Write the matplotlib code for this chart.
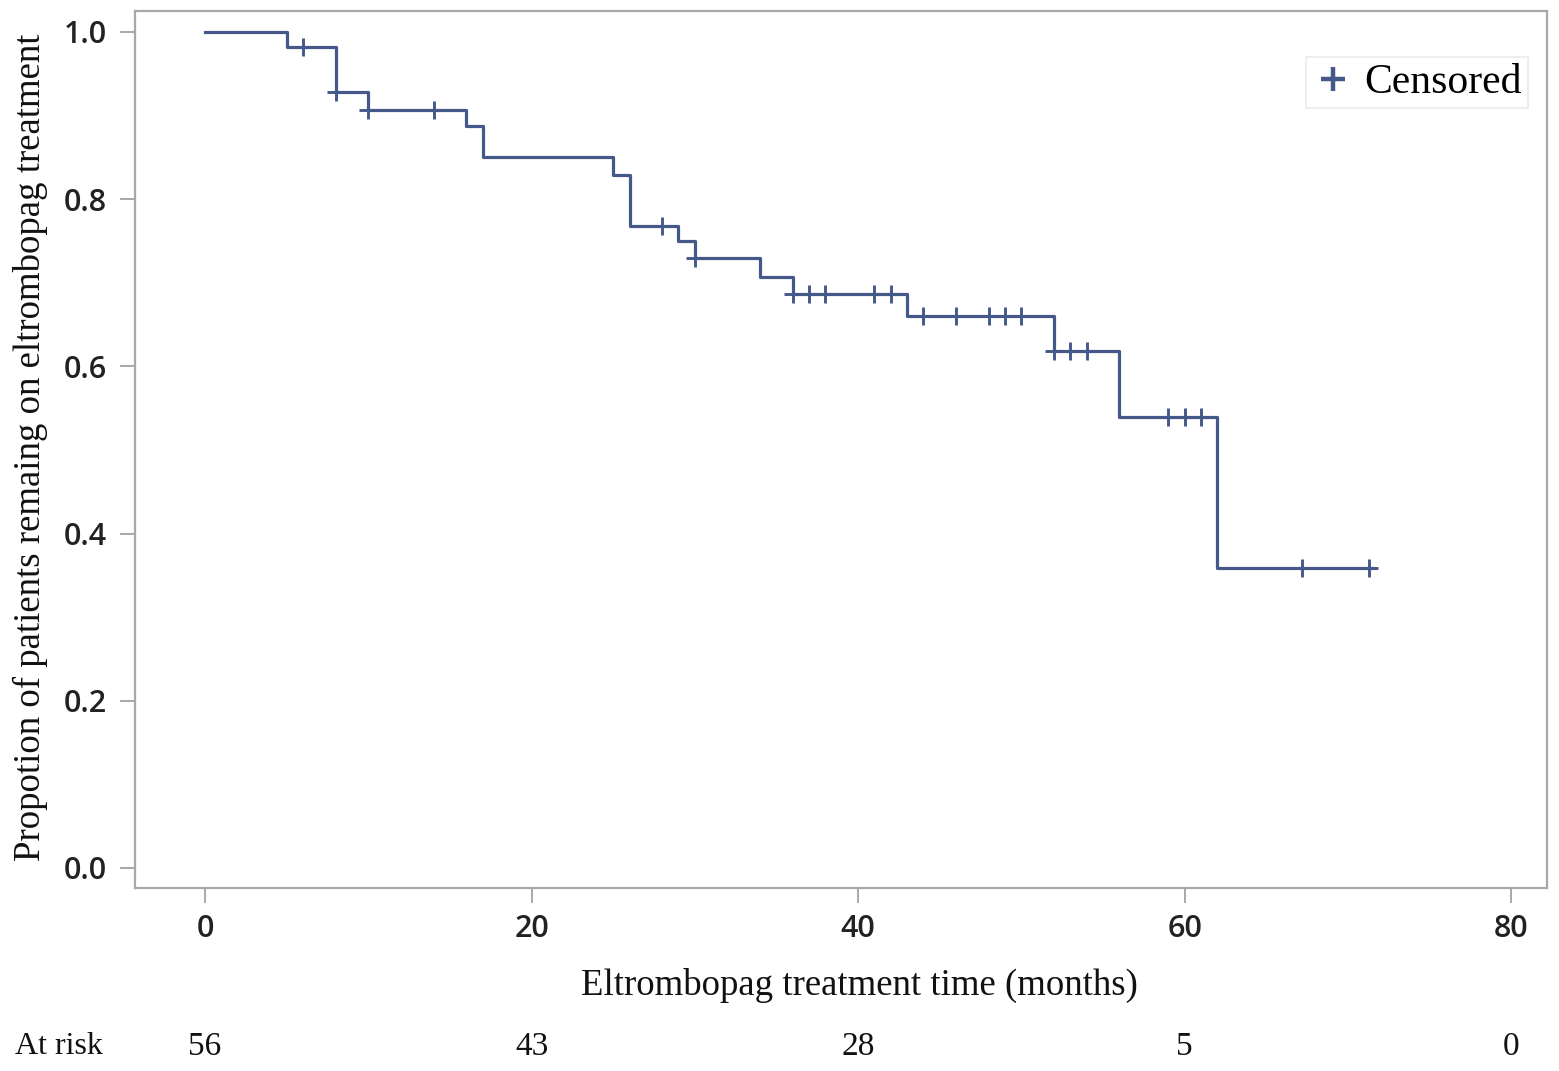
import numpy as np
import matplotlib
matplotlib.use("Agg")
import matplotlib.pyplot as plt
from matplotlib.lines import Line2D


# Kaplan-Meier steps
event_times = [5, 8, 10, 16, 17, 25, 26, 29, 30, 34, 36, 43, 52, 56, 62]
surv_after = [0.982, 0.928, 0.907, 0.888, 0.850, 0.829, 0.768, 0.750,
              0.730, 0.707, 0.686, 0.660, 0.618, 0.539, 0.359]
censor_times = [6, 8, 10, 14, 28, 30, 36, 37, 38, 41, 42, 44, 46, 48, 49,
                50, 52, 53, 54, 59, 60, 61, 67.2, 71.3]
follow_up_end = 71.6

risk_times = [0, 20, 40, 60, 80]
risk_counts = [56, 43, 28, 5, 0]

x_ticks = [0, 20, 40, 60, 80]
y_ticks = [0.0, 0.2, 0.4, 0.6, 0.8, 1.0]

LINE_COLOR = "#44598a"
FRAME_COLOR = "#a8a8a8"
SERIF = "Liberation Serif"
SANS = "Open Sans"


def survival_at(times, t_events, s_events):
    idx = np.searchsorted(t_events, times, side="right")
    levels = np.concatenate([[1.0], s_events])
    return levels[idx]


def main():
    fig = plt.figure(figsize=(15.59, 10.71), dpi=100)
    ax = fig.add_axes([135 / 1559, 1 - 888 / 1071, 1412 / 1559, 877 / 1071])

    t = np.concatenate([[0.0], event_times, [follow_up_end]])
    s = np.concatenate([[1.0], surv_after, [surv_after[-1]]])
    ax.step(t, s, where="post", color=LINE_COLOR, linewidth=2.3)

    cy = survival_at(np.array(censor_times), np.array(event_times), np.array(surv_after))
    ax.plot(censor_times, cy, linestyle="none", marker="+", markersize=13,
            markeredgewidth=2.1, color=LINE_COLOR)

    ax.set_xlim(-4.29, 82.2)
    ax.set_ylim(-0.024, 1.025)
    ax.set_xticks(x_ticks)
    ax.set_yticks(y_ticks)
    ax.set_xticklabels([str(v) for v in x_ticks])
    ax.set_yticklabels([f"{v:.1f}" for v in y_ticks])

    for sp in ax.spines.values():
        sp.set_color(FRAME_COLOR)
        sp.set_linewidth(1.6)
    ax.tick_params(axis="both", direction="out", length=11, width=1.4,
                   color=FRAME_COLOR, labelsize=22, labelcolor="#222222")
    ax.tick_params(axis="x", pad=8)
    ax.tick_params(axis="y", pad=9)
    for lab in ax.get_xticklabels() + ax.get_yticklabels():
        lab.set_fontfamily(SANS)
        lab.set_fontweight("semibold")

    ax.set_xlabel("Eltrombopag treatment time (months)", family=SERIF, fontsize=26.5,
                  color="#111111")
    ax.xaxis.set_label_coords(0.513, -0.091)
    ax.set_ylabel("Propotion of patients remaing on eltrombopag treatment",
                  family=SERIF, fontsize=26.5, color="#111111")
    ax.yaxis.set_label_coords(-0.0615, 0.503)

    handle = Line2D([], [], linestyle="none", marker="+", markersize=17,
                    markeredgewidth=3.2, color=LINE_COLOR)
    leg = ax.legend([handle], ["Censored"], loc="upper right",
                    bbox_to_anchor=(0.9865, 0.947), prop={"family": SERIF, "size": 30},
                    handletextpad=0.25, handlelength=1.0, borderpad=0.15,
                    borderaxespad=0.0, frameon=True, fancybox=False)
    leg.get_frame().set_edgecolor("#e6e6e6")
    leg.get_frame().set_linewidth(1.2)

    # at-risk table under the axis
    row_y = 1 - 1047 / 1071
    fig.text(15 / 1559, row_y, "At risk", family=SERIF, fontsize=23,
             va="center", ha="left", color="#111111")
    trans = matplotlib.transforms.blended_transform_factory(ax.transData, fig.transFigure)
    for tt, n in zip(risk_times, risk_counts):
        ax.text(tt, row_y, str(n), transform=trans, family=SERIF, fontsize=24,
                ha="center", va="center", color="#111111", clip_on=False)

    fig.savefig("out.png", dpi=100, facecolor="white")
    plt.close(fig)


if __name__ == "__main__":
    main()
